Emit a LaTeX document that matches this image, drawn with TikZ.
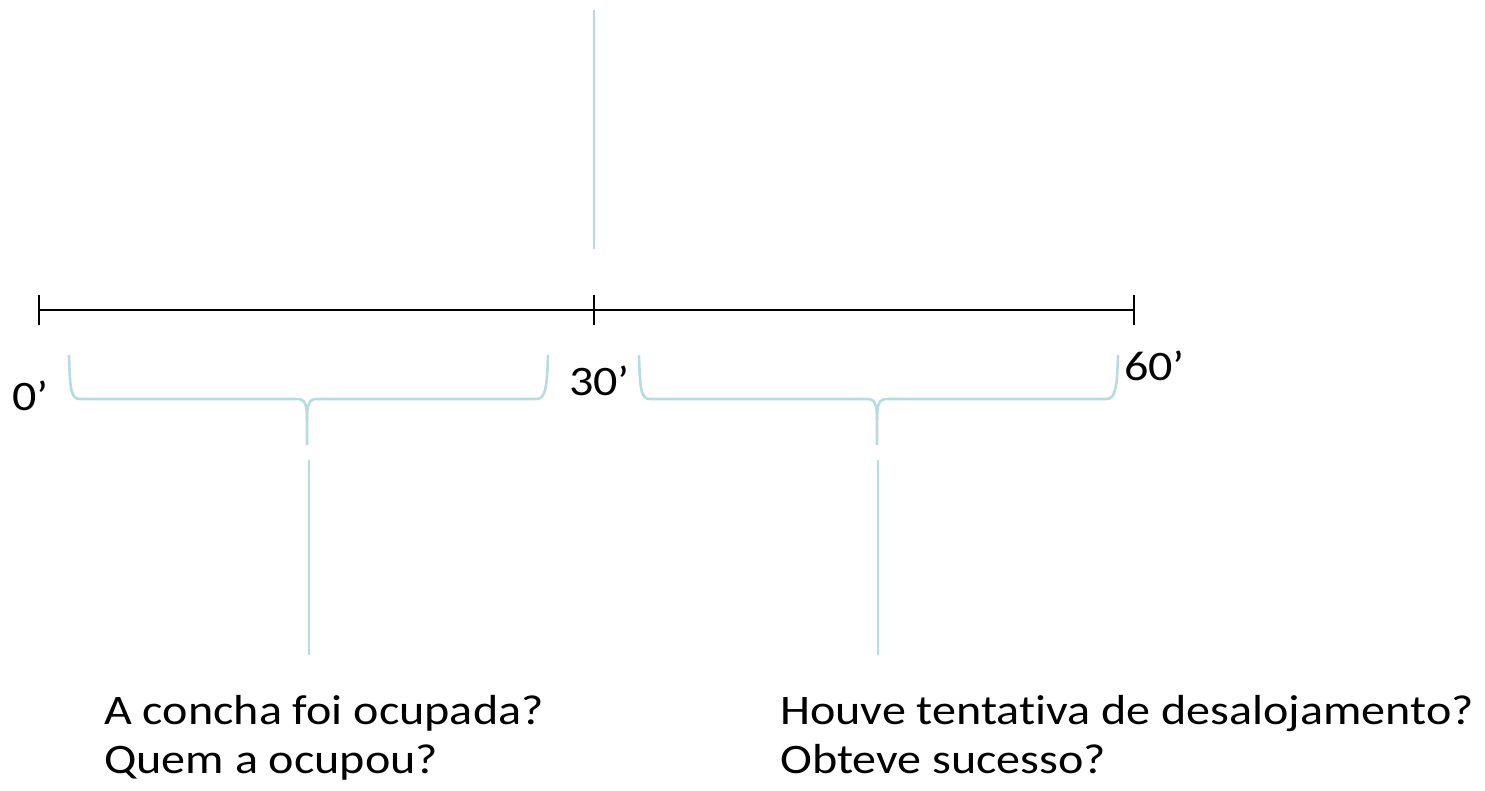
\documentclass[tikz,border=0pt]{standalone}
\usepackage{fontspec}
\setmainfont[Ligatures=NoCommon]{Carlito}
\definecolor{teal1}{RGB}{180,221,225}
\newcommand{\wide}[1]{\scalebox{1.145}[1]{#1}}
\begin{document}
\begin{tikzpicture}[x=1pt,y=-1pt,
  lbl/.style={anchor=base west,inner sep=0pt,font=\fontsize{42}{49}\selectfont},
  axis/.style={line width=2pt,black},
  tl/.style={line width=2.8pt,teal1},
  br/.style={line width=2.6pt,teal1}]
\useasboundingbox (0,0) rectangle (1485,791);
% axis
\coordinate (a0) at (39,310);
\coordinate (a30) at (594,310);
\coordinate (a60) at (1134,310);
\draw[axis] (a0) -- (a30) -- (a60);
\draw[axis] ([yshift=-15]a0) -- ([yshift=15]a0);
\draw[axis] ([yshift=-15]a30) -- ([yshift=15]a30);
\draw[axis] ([yshift=-15]a60) -- ([yshift=15]a60);
% top line
\coordinate (t1) at (594,10);
\coordinate (t2) at (594,249);
\draw[tl] (t1) -- (t2);
% labels
\node[lbl] (l0) at (12,410) {\wide{0’}};
\node[lbl] (l30) at (569,395) {\wide{30’}};
\node[lbl] (l60) at (1124,380) {\wide{60’}};
% left brace
\draw[br] (69,355) .. controls (70,390) and (71,399) .. (80,399) -- (297,399)
  .. controls (305,399) and (307,404) .. (307,420) -- (307,445);
\draw[br] (307,420) .. controls (307,404) and (309,399) .. (317,399) -- (536,399)
  .. controls (545,399) and (547,390) .. (548,355);
% right brace
\draw[br] (639,355) .. controls (640,390) and (641,399) .. (650,399) -- (867,399)
  .. controls (875,399) and (877,404) .. (877,420) -- (877,445);
\draw[br] (877,420) .. controls (877,404) and (879,399) .. (887,399) -- (1106,399)
  .. controls (1115,399) and (1117,390) .. (1118,355);
% vertical connectors
\coordinate (v1a) at (309,460);
\coordinate (v1b) at (309,655);
\coordinate (v2a) at (878,460);
\coordinate (v2b) at (878,655);
\draw[tl] (v1a) -- (v1b);
\draw[tl] (v2a) -- (v2b);
% questions
\node[lbl] (q1a) at (104,724) {\wide{A concha foi ocupada?}};
\node[lbl] (q1b) at (104,773) {\wide{Quem a ocupou?}};
\node[lbl] (q2a) at (780,724) {\wide{Houve tentativa de desalojamento?}};
\node[lbl] (q2b) at (780,773) {\wide{Obteve sucesso?}};
\end{tikzpicture}
\end{document}
